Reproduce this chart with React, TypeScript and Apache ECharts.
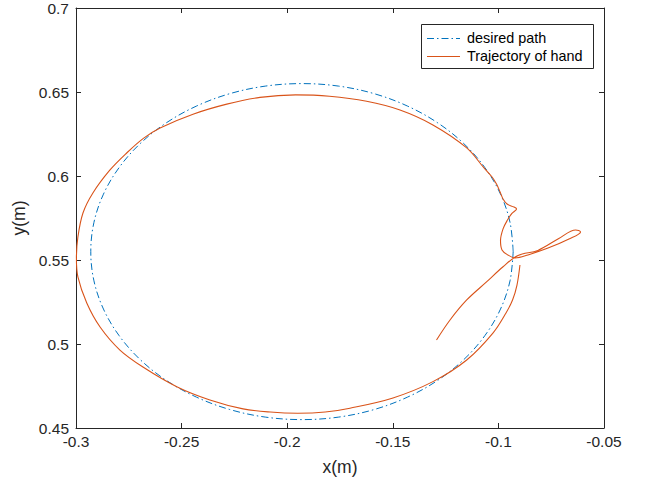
import React, { useEffect, useRef } from "react";
import * as echarts from "echarts";

// Axis tick values
const xTicks = [-0.3, -0.25, -0.2, -0.15, -0.1, -0.05];
const yTicks = [0.45, 0.5, 0.55, 0.6, 0.65, 0.7];

// Series names
const seriesNames = ["desired path", "Trajectory of hand"];

// Desired circular path (x, y)
const desiredX = [
  -0.093, -0.0945, -0.099, -0.1064, -0.1164, -0.1287, -0.143, -0.1588, -0.1756,
  -0.193, -0.2104, -0.2272, -0.243, -0.2573, -0.2696, -0.2796, -0.287, -0.2915,
  -0.293, -0.2915, -0.287, -0.2796, -0.2696, -0.2573, -0.243, -0.2272, -0.2104,
  -0.193, -0.1756, -0.1588, -0.143, -0.1287, -0.1164, -0.1064, -0.099, -0.0945,
  -0.093,
];
const desiredY = [
  0.555, 0.5724, 0.5892, 0.605, 0.6193, 0.6316, 0.6416, 0.649, 0.6535, 0.655,
  0.6535, 0.649, 0.6416, 0.6316, 0.6193, 0.605, 0.5892, 0.5724, 0.555, 0.5376,
  0.5208, 0.505, 0.4907, 0.4784, 0.4684, 0.461, 0.4565, 0.455, 0.4565, 0.461,
  0.4684, 0.4784, 0.4907, 0.505, 0.5208, 0.5376, 0.555,
];

// Hand trajectory (x, y)
const handX = [
  -0.1293, -0.1229, -0.115, -0.1055, -0.0978, -0.0907, -0.0813, -0.0714, -0.0634,
  -0.0611, -0.0666, -0.0765, -0.086, -0.0921, -0.0955, -0.0983, -0.099, -0.0978,
  -0.0957, -0.0936, -0.0914, -0.0926, -0.0959, -0.0978, -0.0992, -0.1009, -0.103,
  -0.1068, -0.115, -0.131, -0.1466, -0.1624, -0.18, -0.196, -0.2129, -0.2286,
  -0.2446, -0.2602, -0.2681, -0.276, -0.2839, -0.292, -0.2967, -0.2991, -0.2998,
  -0.2991, -0.2949, -0.2886, -0.2792, -0.2683, -0.2523, -0.2366, -0.2209, -0.208,
  -0.195, -0.182, -0.1703, -0.1499, -0.131, -0.115, -0.1026, -0.0964, -0.0933,
  -0.0912, -0.0898,
];
const handY = [
  0.5024, 0.5143, 0.5262, 0.5371, 0.546, 0.5527, 0.5557, 0.5628, 0.5679, 0.5667,
  0.5625, 0.5571, 0.553, 0.5512, 0.553, 0.556, 0.5616, 0.5685, 0.5738, 0.5777,
  0.5804, 0.5815, 0.5833, 0.5863, 0.5905, 0.5952, 0.5994, 0.6048, 0.6167, 0.6304,
  0.6393, 0.6445, 0.6475, 0.6483, 0.6468, 0.6428, 0.6368, 0.6286, 0.6224, 0.6137,
  0.6036, 0.5899, 0.578, 0.5637, 0.5512, 0.5399, 0.5244, 0.5101, 0.4964, 0.4863,
  0.4746, 0.4667, 0.4614, 0.4595, 0.4588, 0.4595, 0.4618, 0.4679, 0.4776, 0.4905,
  0.5065, 0.5185, 0.5262, 0.5351, 0.547,
];

const BLUE = "#0072BD";
const RED = "#D95319";
const AXIS = "#262626";
const FONT = "'Liberation Sans', Arial, Helvetica, sans-serif";
const DASHDOT = [7, 3, 1.5, 3];

export default function App() {
  const ref = useRef<HTMLDivElement>(null);

  useEffect(() => {
    if (!ref.current) return;
    const chart = echarts.init(ref.current, undefined, { renderer: "svg" });
    const step = +(xTicks[1] - xTicks[0]).toFixed(4);
    const ystep = +(yTicks[1] - yTicks[0]).toFixed(4);

    const baseAxisLine = { show: true, lineStyle: { color: AXIS, width: 1 } };
    const tick = { show: true, inside: true, length: 5, lineStyle: { color: AXIS, width: 1 } };

    const option: any = {
      animation: false,
      backgroundColor: "#ffffff",
      grid: { left: 76, top: 8, right: 48, bottom: 57, containLabel: false },
      xAxis: [
        {
          type: "value",
          min: xTicks[0],
          max: xTicks[xTicks.length - 1],
          interval: step,
          position: "bottom",
          name: "x(m)",
          nameLocation: "middle",
          nameGap: 30,
          nameTextStyle: { fontFamily: FONT, fontSize: 17.5, color: AXIS },
          axisLine: baseAxisLine,
          axisTick: tick,
          splitLine: { show: false },
          axisLabel: {
            fontFamily: FONT,
            fontSize: 15.5,
            color: AXIS,
            margin: 5,
            formatter: (v: number) => String(+v.toFixed(2)),
          },
        },
        {
          type: "value",
          min: xTicks[0],
          max: xTicks[xTicks.length - 1],
          interval: step,
          position: "top",
          axisLine: baseAxisLine,
          axisTick: tick,
          splitLine: { show: false },
          axisLabel: { show: false },
        },
      ],
      yAxis: [
        {
          type: "value",
          min: yTicks[0],
          max: yTicks[yTicks.length - 1],
          interval: ystep,
          position: "left",
          name: "y(m)",
          nameLocation: "middle",
          nameGap: 40,
          nameTextStyle: { fontFamily: FONT, fontSize: 17.5, color: AXIS },
          axisLine: baseAxisLine,
          axisTick: tick,
          splitLine: { show: false },
          axisLabel: {
            fontFamily: FONT,
            fontSize: 15.5,
            color: AXIS,
            margin: 7,
            formatter: (v: number) => String(+v.toFixed(2)),
          },
        },
        {
          type: "value",
          min: yTicks[0],
          max: yTicks[yTicks.length - 1],
          interval: ystep,
          position: "right",
          axisLine: baseAxisLine,
          axisTick: tick,
          splitLine: { show: false },
          axisLabel: { show: false },
        },
      ],
      series: [
        {
          name: seriesNames[0],
          type: "line",
          xAxisIndex: 0,
          yAxisIndex: 0,
          data: desiredX.map((x, i) => [x, desiredY[i]]),
          showSymbol: false,
          symbol: "none",
          smooth: 0.35,
          lineStyle: { color: BLUE, width: 1, type: DASHDOT },
          z: 2,
        },
        {
          name: seriesNames[1],
          type: "line",
          xAxisIndex: 0,
          yAxisIndex: 0,
          data: handX.map((x, i) => [x, handY[i]]),
          showSymbol: false,
          symbol: "none",
          smooth: 0.35,
          lineStyle: { color: RED, width: 1.1 },
          z: 3,
        },
      ],
      graphic: [
        {
          type: "rect",
          shape: { x: 421.5, y: 24.5, width: 172, height: 44 },
          style: { fill: "#ffffff", stroke: AXIS, lineWidth: 1 },
          z: 10,
        },
        {
          type: "line",
          shape: { x1: 427, y1: 38.5, x2: 460, y2: 38.5 },
          style: { stroke: BLUE, lineWidth: 1, lineDash: DASHDOT },
          z: 11,
        },
        {
          type: "line",
          shape: { x1: 427, y1: 56.5, x2: 460, y2: 56.5 },
          style: { stroke: RED, lineWidth: 1.1 },
          z: 11,
        },
        {
          type: "text",
          x: 467,
          y: 38,
          style: {
            text: seriesNames[0],
            fontFamily: FONT,
            fontSize: 14.4,
            fill: "#000000",
            verticalAlign: "middle",
          },
          z: 11,
        },
        {
          type: "text",
          x: 467,
          y: 56,
          style: {
            text: seriesNames[1],
            fontFamily: FONT,
            fontSize: 14.4,
            fill: "#000000",
            verticalAlign: "middle",
          },
          z: 11,
        },
      ],
    };
    chart.setOption(option);
    return () => chart.dispose();
  }, []);

  return (
    <div
      ref={ref}
      style={{ position: "fixed", left: 0, top: 0, width: 652, height: 485, background: "#fff" }}
    />
  );
}
